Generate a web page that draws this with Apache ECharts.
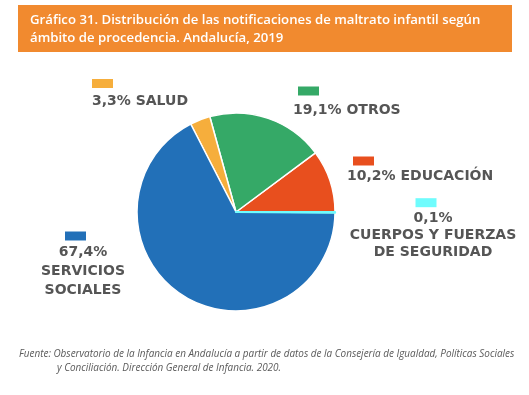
<!DOCTYPE html>
<html>
<head>
<meta charset="utf-8">
<script src="https://cdn.jsdelivr.net/npm/echarts@6/dist/echarts.min.js"></script>
<style>
html,body{margin:0;padding:0;background:#fff;}
#chart{width:529px;height:395px;}
</style>
</head>
<body>
<div id="chart"></div>
<script>
// ---- data (counter-clockwise from 3 o'clock) ----
const categories = ['EDUCACIÓN', 'OTROS', 'SALUD', 'SERVICIOS SOCIALES', 'CUERPOS Y FUERZAS DE SEGURIDAD'];
const values = [10.2, 19.1, 3.3, 67.4, 0.1];
const labelTexts = [
  ['10,2% EDUCACIÓN'],
  ['19,1% OTROS'],
  ['3,3% SALUD'],
  ['67,4%', 'SERVICIOS', 'SOCIALES'],
  ['0,1%', 'CUERPOS Y FUERZAS', 'DE SEGURIDAD']
];
const colors = ['#e84f1e', '#35a967', '#f6ae3c', '#2270b8', '#6ffcfd'];

// ---- label layout (positions / styles) ----
const labelLayoutCfg = [
  {x: 347, y: 153.5, align: 'left',   boxLH: 15, textLH: 16, padL: 6, padR: 0},
  {x: 293, y: 79.5,  align: 'left',   boxLH: 23, textLH: 16, padL: 5, padR: 0},
  {x: 92,  y: 74,    align: 'left',   boxLH: 19, textLH: 16, padL: 0, padR: 0},
  {x: 83,  y: 229,   align: 'center', boxLH: 14, textLH: 19, padL: 0, padR: 15},
  {x: 433, y: 195.7, align: 'center', boxLH: 14, textLH: 17, padL: 0, padR: 14}
];

const data = categories.map((c, i) => {
  const cfg = labelLayoutCfg[i];
  const rich = {
    box: {backgroundColor: colors[i], width: 21, height: 9, lineHeight: cfg.boxLH},
    sl: {width: cfg.padL, lineHeight: cfg.boxLH},
    sr: {width: cfg.padR, lineHeight: cfg.boxLH},
    t: {fontFamily: 'DejaVu Sans', fontWeight: 'bold', fontSize: 14, color: '#555555', lineHeight: cfg.textLH}
  };
  let first = '';
  if (cfg.padL) first += '{sl|}';
  first += '{box|}';
  if (cfg.padR) first += '{sr|}';
  const lines = [first].concat(labelTexts[i].map(t => '{t|' + t + '}'));
  const isTiny = i === 4;
  return {
    name: c,
    value: values[i],
    itemStyle: isTiny ? {color: colors[i], borderColor: colors[i], borderWidth: 2.2}
                      : {color: colors[i], borderColor: '#ffffff', borderWidth: 1.5},
    label: {formatter: lines.join('\n'), rich: rich, align: cfg.align}
  };
});

const chart = echarts.init(document.getElementById('chart'), null, {renderer: 'canvas'});
chart.setOption({
  animation: false,
  backgroundColor: '#ffffff',
  title: {
    text: 'Gráfico 31. Distribución de las notificaciones de maltrato infantil según\námbito de procedencia. Andalucía, 2019',
    left: 30, top: 11, padding: 0,
    textStyle: {fontFamily: 'Open Sans', fontWeight: 600, fontSize: 13.2, color: '#ffffff', lineHeight: 18}
  },
  graphic: [
    {type: 'rect', z: -1, shape: {x: 18, y: 5, width: 494, height: 47}, style: {fill: '#f18a2f'}},
    {type: 'text', left: 19, top: 349, style: {
      text: 'Fuente: Observatorio de la Infancia en Andalucía a partir de datos de la Consejería de Igualdad, Políticas Sociales',
      font: 'italic 9.95px "Open Sans"', fill: '#5a5a5a'}},
    {type: 'text', left: 57, top: 363, style: {
      text: 'y Conciliación. Dirección General de Infancia. 2020.',
      font: 'italic 9.95px "Open Sans"', fill: '#5a5a5a'}}
  ],
  series: [{
    type: 'pie',
    center: [236, 212],
    radius: [0, 99],
    startAngle: 0,
    clockwise: false,
    avoidLabelOverlap: false,
    label: {show: true, position: 'outside'},
    labelLine: {show: false},
    labelLayout: function (p) {
      const cfg = labelLayoutCfg[p.dataIndex];
      return {x: cfg.x, y: cfg.y, align: cfg.align, verticalAlign: 'top'};
    },
    data: data
  }]
});
</script>
</body>
</html>
